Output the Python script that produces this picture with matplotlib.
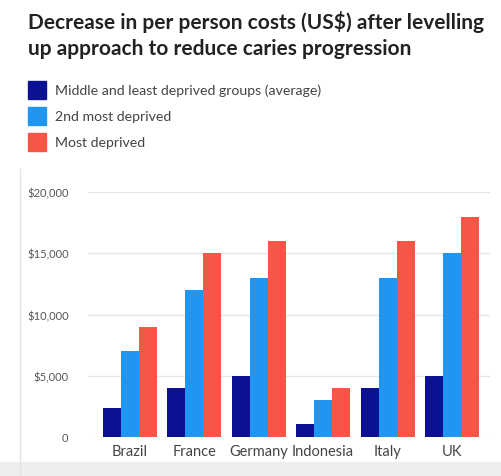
import matplotlib
matplotlib.use("Agg")
import matplotlib.pyplot as plt
import matplotlib.patches as mpatches
import numpy as np

countries = ["Brazil", "France", "Germany", "Indonesia", "Italy", "UK"]
series_names = ["Middle and least deprived groups (average)", "2nd most deprived", "Most deprived"]
middle_least = [2400, 4000, 5000, 1100, 4000, 5000]
second_most = [7000, 12000, 13000, 3000, 13000, 15000]
most_deprived = [9000, 15000, 16000, 4000, 16000, 18000]
yticks = [0, 5000, 10000, 15000, 20000]
ytick_labels = ["0", "$5,000", "$10,000", "$15,000", "$20,000"]

colors = ["#0b1190", "#2196f0", "#f65646"]

plt.rcParams['font.family'] = ['Lato', 'DejaVu Sans']

fig = plt.figure(figsize=(5.01, 4.77), dpi=100)
fig.patch.set_facecolor("white")

ax = fig.add_axes([88/501, 1-438/477, (490-88)/501, (438-193)/477])
x = np.arange(len(countries))
w = 0.28
for i, (vals, c) in enumerate(zip([middle_least, second_most, most_deprived], colors)):
    ax.bar(x + (i-1)*w, vals, width=w, color=c, zorder=3)

ax.set_ylim(0, 20000)
ax.set_xlim(-0.65, len(countries)-1+0.59)
ax.set_yticks(yticks)
ax.set_yticklabels(ytick_labels)
ax.set_xticks(x)
ax.set_xticklabels(countries)
ax.tick_params(axis='y', length=0, labelsize=8, labelcolor="#555555", pad=14)
ax.tick_params(axis='x', length=0, labelsize=10.5, labelcolor="#444444", pad=5)
ax.grid(axis='y', color="#e6e6e6", linewidth=1, zorder=0)
for s in ax.spines.values():
    s.set_visible(False)

fig.text(28/501, 1-11/477, "Decrease in per person costs (US$) after levelling\nup approach to reduce caries progression",
         ha='left', va='top', fontsize=15, fontweight='bold', color="#222222", linespacing=1.35)

handles = [mpatches.Patch(color=c, label=n) for c, n in zip(colors, series_names)]
fig.legend(handles=handles, loc='upper left', bbox_to_anchor=(22/501, 1-76/477), frameon=False,
           fontsize=10.2, handlelength=1.3, handleheight=1.6, handletextpad=0.6, labelspacing=0.55,
           labelcolor="#444444", borderaxespad=0)

# light left border line and bottom band
fig.add_artist(plt.Line2D([20/501, 20/501], [0, 1-170/477], color="#e3e3e3", lw=1))
fig.add_artist(mpatches.Rectangle((0, 0), 1, 14/477, transform=fig.transFigure, color="#eeeeee", zorder=0))

fig.savefig("out.png", dpi=100, facecolor="white")
